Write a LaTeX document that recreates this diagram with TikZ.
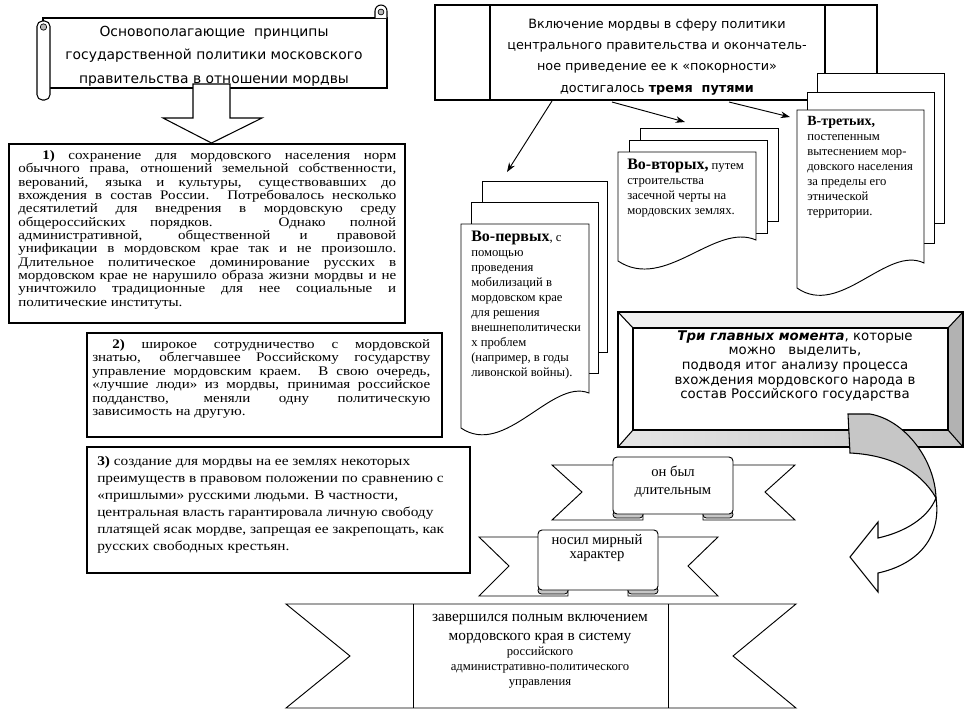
\documentclass[tikz,border=0pt]{standalone}
\usepackage{fontspec}
\setmainfont{Liberation Serif}
\newfontfamily\tms[FakeStretch=1.15]{Liberation Serif}
\newfontfamily\cms{DejaVu Sans}
\usetikzlibrary{arrows.meta}
\newcommand\jline[2]{\makebox[#1][s]{#2}}
\begin{document}
\begin{tikzpicture}[x=0.75pt,y=-0.75pt]
\tikzset{
 outl/.style={draw=black, line width=0.8pt},
 boxfill/.style={outl, fill=white},
 pagefill/.style={draw=black, line width=0.7pt, fill=white},
 link/.style={draw=black, line width=0.7pt, -{Stealth[length=7pt,width=5pt]}},
 nw/.style={inner sep=0pt, anchor=north west, align=left},
 ctr/.style={inner sep=0pt, align=center},
 fold/.style={draw=black, line width=0.6pt, fill=gray!45, rounded corners=2.5pt},
}
\fill[white] (0,0) rectangle (968,719);
\useasboundingbox (0,0) rectangle (968,719);

% ---------- scroll ----------
\draw[boxfill] (43,18) rectangle (387,88);
\draw[boxfill] (375,18) -- (375,11) arc[start angle=180,end angle=360,radius=6] -- (387,18);
\draw[fill=gray!55, line width=0.5pt] (381,12) circle (2.2pt);
\draw[boxfill, rounded corners=4pt] (37,21) rectangle (50,100);
\draw[fill=gray!55, line width=0.5pt] (43.5,27) circle (2.4pt);
\node[ctr, font=\cms\fontsize{10.4}{17.6}\selectfont] (scrolltxt) at (214,56)
 {Основополагающие\ \ принципы\\государственной политики московского\\правительства в отношении мордвы};

% ---------- block arrow ----------
\draw[boxfill] (193,84) -- (230,84) -- (230,118) -- (262,118) -- (211.5,143) -- (163,118) -- (193,118) -- cycle;

% ---------- box 1 ----------
\draw[boxfill, line width=1pt] (9,144) rectangle (405,323);
\node[nw, font=\tms\fontsize{9.8}{10}\selectfont] (b1txt) at (18,150) {%
\jline{283.5pt}{\hspace*{18pt}\textbf{1)} сохранение для мордовского населения норм}\\
\jline{283.5pt}{обычного права, отношений земельной собственности,}\\
\jline{283.5pt}{верований, языка и культуры, существовавших до}\\
\jline{283.5pt}{вхождения в состав России. Потребовалось несколько}\\
\jline{283.5pt}{десятилетий для внедрения в мордовскую среду}\\
\jline{283.5pt}{общероссийских порядков. Однако полной}\\
\jline{283.5pt}{административной, общественной и правовой}\\
\jline{283.5pt}{унификации в мордовском крае так и не произошло.}\\
\jline{283.5pt}{Длительное политическое доминирование русских в}\\
\jline{283.5pt}{мордовском крае не нарушило образа жизни мордвы и не}\\
\jline{283.5pt}{уничтожило традиционные для нее социальные и}\\
политические институты.};

% ---------- box 2 ----------
\draw[boxfill] (87,333) rectangle (442,437);
\node[nw, font=\tms\fontsize{9.8}{10.1}\selectfont] (b2txt) at (92,339) {%
\jline{253.5pt}{\hspace*{15pt}\textbf{2)} широкое сотрудничество с мордовской}\\
\jline{253.5pt}{знатью, облегчавшее Российскому государству}\\
\jline{253.5pt}{управление мордовским краем. В свою очередь,}\\
\jline{253.5pt}{«лучшие люди» из мордвы, принимая российское}\\
\jline{253.5pt}{подданство, меняли одну политическую}\\
зависимость на другую.};

% ---------- box 3 ----------
\draw[boxfill] (87,447) rectangle (470,573);
\node[nw, font=\tms\fontsize{10}{12.75}\selectfont] (b3txt) at (97,456) {%
\textbf{3)} создание для мордвы на ее землях некоторых\\
преимуществ в правовом положении по сравнению с\\
«пришлыми» русскими людьми. В частности,\\
центральная власть гарантировала личную свободу\\
платящей ясак мордве, запрещая ее закрепощать, как\\
русских свободных крестьян.};

% ---------- top right box ----------
\draw[boxfill] (435,5) rectangle (877,100);
\draw[outl] (490,5) -- (490,100);
\draw[outl] (825,5) -- (825,100);
\node[ctr, font=\cms\fontsize{9.6}{16}\selectfont] (incltxt) at (657,57)
 {Включение мордвы в сферу политики\\центрального правительства и окончатель-\\ное приведение ее к «покорности»\\достигалось \textbf{тремя\ \ путями}};

\coordinate (a1s) at (552,101);
\coordinate (a1e) at (507,172);
\coordinate (a2s) at (612,102);
\coordinate (a2e) at (685,122);
\coordinate (a3s) at (729,102);
\coordinate (a3e) at (790,117);
\draw[link] (a1s) -- (a1e);
\draw[link] (a2s) -- (a2e);
\draw[link] (a3s) -- (a3e);

% ---------- stack 1 ----------
\draw[pagefill] (482,181) rectangle (607,352);
\draw[pagefill] (471,202) rectangle (598,373);
\draw[pagefill] (461,224) -- (589,224) -- (589,393) .. controls (552,378) and (505,458) .. (461,428) -- cycle;
\node[nw, font=\fontsize{9.5}{11.25}\selectfont] (s1txt) at (471,231) {%
{\fontsize{12}{11.25}\selectfont\bfseries Во-первых}, с\\помощью\\проведения\\мобилизаций в\\мордовском крае\\для решения\\внешнеполитически\\х проблем\\(например, в годы\\ливонской войны).};

% ---------- stack 2 ----------
\draw[pagefill] (640,128) rectangle (778,221);
\draw[pagefill] (629,140) rectangle (767,233);
\draw[pagefill] (618,152) -- (756,152) -- (756,240) .. controls (715,222) and (665,292) .. (618,261) -- cycle;
\node[nw, font=\fontsize{9.5}{11.25}\selectfont] (s2txt) at (627,159) {%
{\fontsize{12}{11.25}\selectfont\bfseries Во-вторых,} путем\\строительства\\засечной черты на\\мордовских землях.};

% ---------- stack 3 ----------
\draw[pagefill] (817,73) rectangle (944,223);
\draw[pagefill] (807,92) rectangle (934,243);
\draw[pagefill] (797,110) -- (924,110) -- (924,263) .. controls (887,245) and (840,318) .. (797,288) -- cycle;
\node[nw, font=\fontsize{9.5}{11.25}\selectfont] (s3txt) at (807,116) {%
{\fontsize{10.5}{11.25}\selectfont\bfseries В-третьих,}\\постепенным\\вытеснением мор-\\довского населения\\за пределы его\\этнической\\территории.};

% ---------- bevel box ----------
\fill[gray!12] (618,312) -- (963,312) -- (948,328) -- (633,328) -- cycle;
\fill[white] (618,312) -- (633,328) -- (633,430) -- (618,447) -- cycle;
\fill[gray!60] (963,312) -- (963,447) -- (948,430) -- (948,328) -- cycle;
\shade[left color=gray!20, right color=gray!45] (618,447) -- (963,447) -- (948,430) -- (633,430) -- cycle;
\draw[outl] (618,312) rectangle (963,447);
\draw[outl] (633,328) rectangle (948,430);
\draw[outl] (618,312) -- (633,328);
\draw[outl] (963,312) -- (948,328);
\draw[outl] (618,447) -- (633,430);
\draw[outl] (963,447) -- (948,430);
\node[ctr, font=\cms\fontsize{10}{11}\selectfont] (threetxt) at (795,366)
 {\textbf{\textit{Три главных момента}}, которые\\можно\ \ \ выделить,\\подводя итог анализу процесса\\вхождения мордовского народа в\\состав Российского государства};

% ---------- curved arrow ----------
\draw[outl, fill=gray!45] (848,414) -- (870,414) .. controls (905,420) and (935,460) .. (936,498)
  .. controls (920,470) and (890,455) .. (850,453) -- cycle;
\draw[outl, fill=white] (936,498) .. controls (942,540) and (915,565) .. (878,573) -- (878,592) -- (850,557)
  -- (878,522) -- (878,538) .. controls (905,532) and (928,518) .. (936,498) -- cycle;

% ---------- ribbon 1 ----------
\draw[pagefill] (643,465) -- (552,465) -- (582,492) -- (552,520) -- (643,520) -- cycle;
\draw[pagefill] (703,465) -- (795,465) -- (765,492) -- (795,520) -- (703,520) -- cycle;
\draw[fold] (613,511) rectangle (643,518);
\draw[fold] (703,511) rectangle (733,518);
\draw[pagefill, rounded corners=3pt] (613,457) rectangle (733,514);
\node[ctr, font=\fontsize{11}{13.5}\selectfont] (r1txt) at (673,482) {он был\\длительным};

% ---------- ribbon 2 ----------
\draw[pagefill] (568,537) -- (479,537) -- (509,566) -- (479,596) -- (568,596) -- cycle;
\draw[pagefill] (628,537) -- (718,537) -- (688,566) -- (718,596) -- (628,596) -- cycle;
\draw[fold] (538,587) rectangle (568,594);
\draw[fold] (628,587) rectangle (658,594);
\draw[pagefill, rounded corners=3pt] (538,530) rectangle (658,590);
\node[ctr, font=\fontsize{11}{10.5}\selectfont] (r2txt) at (597,548) {носил мирный\\характер};

% ---------- ribbon 3 ----------
\draw[pagefill] (286,604) -- (796,604) -- (733,656) -- (796,708) -- (286,708) -- (350,656) -- cycle;
\draw[outl, line width=0.7pt] (413,604) -- (413,708);
\draw[outl, line width=0.7pt] (668,604) -- (668,708);
\node[ctr, font=\fontsize{9.5}{11.25}\selectfont] (r3txt) at (540,651)
 {{\fontsize{11.5}{14}\selectfont завершился полным включением}\\[3pt]{\fontsize{11.5}{14}\selectfont мордовского края в систему}\\российского\\административно-политического\\управления};
\end{tikzpicture}
\end{document}
